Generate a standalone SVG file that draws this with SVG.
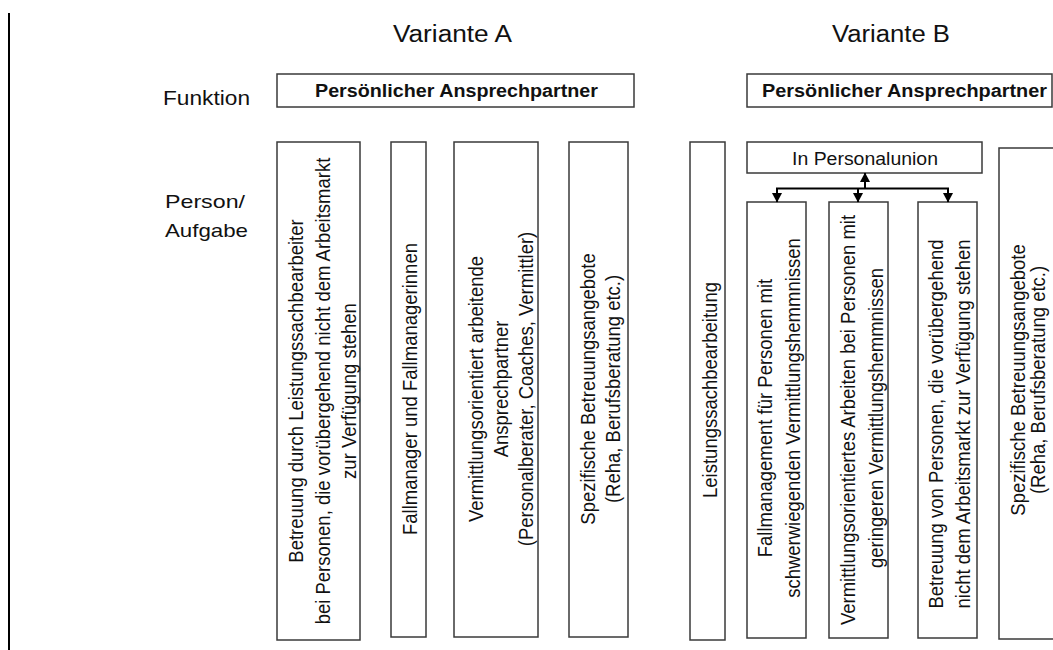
<svg xmlns="http://www.w3.org/2000/svg" width="1053" height="650" viewBox="0 0 1053 650">
<style>
.bg{fill:#ffffff}
.box{fill:#ffffff;stroke:#3a3a3a;stroke-width:1.5}
.t{font-family:"Liberation Sans",Arial,sans-serif;fill:#111111}
.title{font-size:23px}
.lab{font-size:20px}
.lab2{font-size:19px}
.bold{font-size:17.5px;font-weight:bold}
.pu{font-size:17.5px}
.rot{font-size:18.5px;text-anchor:middle}
.conn{fill:none;stroke:#000000;stroke-width:2}
</style>
<defs>
<marker id="ah" markerWidth="11" markerHeight="10" refX="9" refY="5" orient="auto" markerUnits="userSpaceOnUse">
<path d="M0,0 L9.5,5 L0,10 Z" fill="#000000"/>
</marker>
</defs>
<rect class="bg" x="0" y="0" width="1053" height="650"/>
<line x1="9" y1="13" x2="9" y2="650" stroke="#000000" stroke-width="2"/>

<g id="titles">
<text class="t title" x="393" y="42" textLength="119" lengthAdjust="spacingAndGlyphs">Variante A</text>
<text class="t title" x="832" y="42" textLength="118" lengthAdjust="spacingAndGlyphs">Variante B</text>
<text class="t lab" x="163" y="105" textLength="87" lengthAdjust="spacingAndGlyphs">Funktion</text>
<text class="t lab2" x="165" y="208" textLength="80" lengthAdjust="spacingAndGlyphs">Person/</text>
<text class="t lab2" x="165" y="237" textLength="83" lengthAdjust="spacingAndGlyphs">Aufgabe</text>
</g>

<g id="funktionA">
<rect class="box" x="277" y="74" width="357" height="33"/>
<text class="t bold" x="315" y="97" textLength="283" lengthAdjust="spacingAndGlyphs">Persönlicher Ansprechpartner</text>
</g>
<g id="funktionB">
<rect class="box" x="747" y="74" width="305" height="33"/>
<text class="t bold" x="762" y="97" textLength="285" lengthAdjust="spacingAndGlyphs">Persönlicher Ansprechpartner</text>
</g>

<g id="a1">
<rect class="box" x="277" y="142" width="83" height="498"/>
<text class="t rot" transform="translate(303,391) rotate(-90) scale(1,1.1)">Betreuung durch Leistungssachbearbeiter</text>
<text class="t rot" transform="translate(330,391) rotate(-90) scale(1,1.1)">bei Personen, die vorübergehend nicht dem Arbeitsmarkt</text>
<text class="t rot" transform="translate(356,391) rotate(-90) scale(1,1.1)">zur Verfügung stehen</text>
</g>
<g id="a2">
<rect class="box" x="391" y="142" width="35" height="495"/>
<text class="t rot" transform="translate(417,389) rotate(-90) scale(1,1.1)">Fallmanager und Fallmanagerinnen</text>
</g>
<g id="a3">
<rect class="box" x="454" y="142" width="84" height="495"/>
<text class="t rot" transform="translate(483,389) rotate(-90) scale(1,1.1)">Vermittlungsorientiert arbeitende</text>
<text class="t rot" transform="translate(508,389) rotate(-90) scale(1,1.1)">Ansprechpartner</text>
<text class="t rot" transform="translate(533,389) rotate(-90) scale(1,1.1)">(Personalberater, Coaches, Vermittler)</text>
</g>
<g id="a4">
<rect class="box" x="569" y="142" width="59" height="495"/>
<text class="t rot" transform="translate(595,389) rotate(-90) scale(1,1.1)">Spezifische Betreuungsangebote</text>
<text class="t rot" transform="translate(620,389) rotate(-90) scale(1,1.1)">(Reha, Berufsberatung etc.)</text>
</g>

<g id="b0">
<rect class="box" x="690" y="142" width="35" height="498"/>
<text class="t rot" transform="translate(717,390) rotate(-90) scale(1,1.1)">Leistungssachbearbeitung</text>
</g>
<g id="pu">
<rect class="box" x="747" y="142" width="235" height="31"/>
<text class="t pu" x="792" y="165" textLength="146" lengthAdjust="spacingAndGlyphs">In Personalunion</text>
</g>
<g id="b1">
<rect class="box" x="747" y="202" width="59" height="436"/>
<text class="t rot" transform="translate(772,418) rotate(-90) scale(1,1.1)">Fallmanagement für Personen mit</text>
<text class="t rot" transform="translate(800,418) rotate(-90) scale(1,1.1)">schwerwiegenden Vermittlungshemmnissen</text>
</g>
<g id="b2">
<rect class="box" x="829" y="202" width="59" height="436"/>
<text class="t rot" transform="translate(855,420) rotate(-90) scale(1,1.1)">Vermittlungsorientiertes Arbeiten bei Personen mit</text>
<text class="t rot" transform="translate(883,418) rotate(-90) scale(1,1.1)">geringeren Vermittlungshemmnissen</text>
</g>
<g id="b3">
<rect class="box" x="918" y="202" width="59" height="436"/>
<text class="t rot" transform="translate(943,424) rotate(-90) scale(1,1.1)">Betreuung von Personen, die vorübergehend</text>
<text class="t rot" transform="translate(970,424) rotate(-90) scale(1,1.1)">nicht dem Arbeitsmarkt zur Verfügung stehen</text>
</g>
<g id="b4">
<rect class="box" x="999" y="148" width="80" height="491"/>
<text class="t rot" transform="translate(1025,380) rotate(-90) scale(1,1.1)">Spezifische Betreuungsangebote</text>
<text class="t rot" transform="translate(1045,380) rotate(-90) scale(1,1.1)">(Reha, Berufsberatung etc.)</text>
</g>

<g id="connectors">
<line class="conn" x1="776" y1="188.5" x2="949" y2="188.5"/>
<line class="conn" x1="865" y1="188.5" x2="865" y2="173" marker-end="url(#ah)"/>
<line class="conn" x1="777" y1="188" x2="777" y2="202" marker-end="url(#ah)"/>
<line class="conn" x1="858" y1="188" x2="858" y2="202" marker-end="url(#ah)"/>
<line class="conn" x1="948" y1="188" x2="948" y2="202" marker-end="url(#ah)"/>
</g>
</svg>
